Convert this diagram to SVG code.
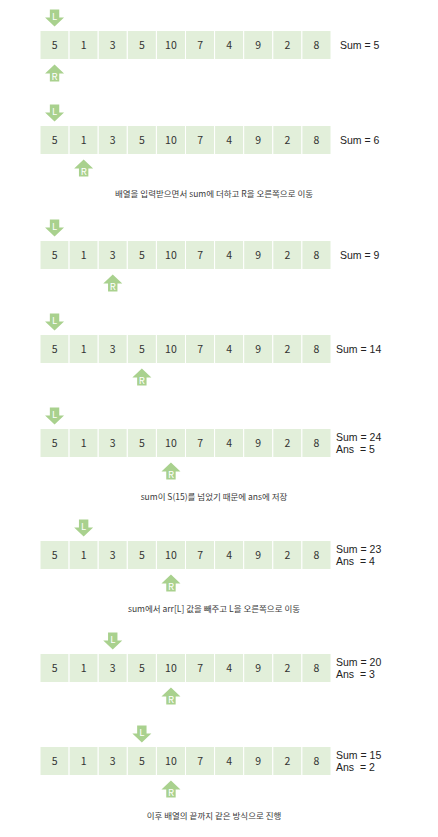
<svg xmlns="http://www.w3.org/2000/svg" xmlns:xlink="http://www.w3.org/1999/xlink" width="438" height="837" viewBox="0 0 438 837">
<style>
.cell{fill:#E2EFDA;stroke:#FFFFFF;stroke-width:1}
.num{font-family:"Noto Sans CJK KR","Noto Sans",sans-serif;font-size:10.5px;fill:#333333;text-anchor:middle}
.sum{font-family:"Liberation Sans",Arial,sans-serif;font-size:10.5px;fill:#222222}
.cap{font-family:"Noto Sans CJK KR","Noto Sans",sans-serif;font-size:8.5px;fill:#3a3a3a;text-anchor:middle}
.arr{fill:#A9D18E}
.lab{font-family:"Noto Sans CJK KR","Noto Sans",sans-serif;font-size:9.5px;fill:#FFFFFF;text-anchor:middle}
</style>
<defs>
<path id="down" class="arr" d="M-4.7,0 H4.7 V8 H9.5 L0,17 L-9.5,8 H-4.7 Z"/>
<path id="up" class="arr" d="M0,0 L9.5,9 H4.7 V17 H-4.7 V9 H-9.5 Z"/>
<g id="cells">
<rect class="cell" x="40" y="0" width="29.1" height="29"/>
<rect class="cell" x="69.1" y="0" width="29.1" height="29"/>
<rect class="cell" x="98.2" y="0" width="29.1" height="29"/>
<rect class="cell" x="127.3" y="0" width="29.1" height="29"/>
<rect class="cell" x="156.4" y="0" width="29.1" height="29"/>
<rect class="cell" x="185.5" y="0" width="29.1" height="29"/>
<rect class="cell" x="214.6" y="0" width="29.1" height="29"/>
<rect class="cell" x="243.7" y="0" width="29.1" height="29"/>
<rect class="cell" x="272.8" y="0" width="29.1" height="29"/>
<rect class="cell" x="301.9" y="0" width="29.1" height="29"/>
</g>
</defs>

<!-- Row 1 -->
<g id="row1" transform="translate(0,30.5)">
<use xlink:href="#cells"/>
<text class="num" x="54.55" y="18.5">5</text><text class="num" x="83.65" y="18.5">1</text><text class="num" x="112.75" y="18.5">3</text><text class="num" x="141.85" y="18.5">5</text><text class="num" x="170.95" y="18.5">10</text><text class="num" x="200.05" y="18.5">7</text><text class="num" x="229.15" y="18.5">4</text><text class="num" x="258.25" y="18.5">9</text><text class="num" x="287.35" y="18.5">2</text><text class="num" x="316.45" y="18.5">8</text>
<text class="sum" x="340" y="18.5">Sum = 5</text>
</g>
<g id="row1-L"><use xlink:href="#down" x="54.55" y="9.5"/><text class="lab" x="54.55" y="20">L</text></g>
<g id="row1-R"><use xlink:href="#up" x="54.55" y="64.5"/><text class="lab" x="54.55" y="80">R</text></g>

<!-- Row 2 -->
<g id="row2" transform="translate(0,125.5)">
<use xlink:href="#cells"/>
<text class="num" x="54.55" y="18.5">5</text><text class="num" x="83.65" y="18.5">1</text><text class="num" x="112.75" y="18.5">3</text><text class="num" x="141.85" y="18.5">5</text><text class="num" x="170.95" y="18.5">10</text><text class="num" x="200.05" y="18.5">7</text><text class="num" x="229.15" y="18.5">4</text><text class="num" x="258.25" y="18.5">9</text><text class="num" x="287.35" y="18.5">2</text><text class="num" x="316.45" y="18.5">8</text>
<text class="sum" x="340" y="18.5">Sum = 6</text>
</g>
<g id="row2-L"><use xlink:href="#down" x="54.55" y="104.5"/><text class="lab" x="54.55" y="115">L</text></g>
<g id="row2-R"><use xlink:href="#up" x="83.65" y="159.5"/><text class="lab" x="83.65" y="175">R</text></g>
<text id="cap1" class="cap" x="214" y="197">배열을 입력받으면서 sum에 더하고 R을 오른쪽으로 이동</text>

<!-- Row 3 -->
<g id="row3" transform="translate(0,240.5)">
<use xlink:href="#cells"/>
<text class="num" x="54.55" y="18.5">5</text><text class="num" x="83.65" y="18.5">1</text><text class="num" x="112.75" y="18.5">3</text><text class="num" x="141.85" y="18.5">5</text><text class="num" x="170.95" y="18.5">10</text><text class="num" x="200.05" y="18.5">7</text><text class="num" x="229.15" y="18.5">4</text><text class="num" x="258.25" y="18.5">9</text><text class="num" x="287.35" y="18.5">2</text><text class="num" x="316.45" y="18.5">8</text>
<text class="sum" x="340" y="18.5">Sum = 9</text>
</g>
<g id="row3-L"><use xlink:href="#down" x="54.55" y="219.5"/><text class="lab" x="54.55" y="230">L</text></g>
<g id="row3-R"><use xlink:href="#up" x="112.75" y="274.5"/><text class="lab" x="112.75" y="290">R</text></g>

<!-- Row 4 -->
<g id="row4" transform="translate(0,334.5)">
<use xlink:href="#cells"/>
<text class="num" x="54.55" y="18.5">5</text><text class="num" x="83.65" y="18.5">1</text><text class="num" x="112.75" y="18.5">3</text><text class="num" x="141.85" y="18.5">5</text><text class="num" x="170.95" y="18.5">10</text><text class="num" x="200.05" y="18.5">7</text><text class="num" x="229.15" y="18.5">4</text><text class="num" x="258.25" y="18.5">9</text><text class="num" x="287.35" y="18.5">2</text><text class="num" x="316.45" y="18.5">8</text>
<text class="sum" x="336" y="18.5">Sum = 14</text>
</g>
<g id="row4-L"><use xlink:href="#down" x="54.55" y="313.5"/><text class="lab" x="54.55" y="324">L</text></g>
<g id="row4-R"><use xlink:href="#up" x="141.85" y="368.5"/><text class="lab" x="141.85" y="384">R</text></g>

<!-- Row 5 -->
<g id="row5" transform="translate(0,428.5)">
<use xlink:href="#cells"/>
<text class="num" x="54.55" y="18.5">5</text><text class="num" x="83.65" y="18.5">1</text><text class="num" x="112.75" y="18.5">3</text><text class="num" x="141.85" y="18.5">5</text><text class="num" x="170.95" y="18.5">10</text><text class="num" x="200.05" y="18.5">7</text><text class="num" x="229.15" y="18.5">4</text><text class="num" x="258.25" y="18.5">9</text><text class="num" x="287.35" y="18.5">2</text><text class="num" x="316.45" y="18.5">8</text>
<text class="sum" x="336" y="12.3" xml:space="preserve">Sum = 24</text>
<text class="sum" x="336" y="24.7" xml:space="preserve">Ans  = 5</text>
</g>
<g id="row5-L"><use xlink:href="#down" x="54.55" y="407.5"/><text class="lab" x="54.55" y="418">L</text></g>
<g id="row5-R"><use xlink:href="#up" x="170.95" y="462.5"/><text class="lab" x="170.95" y="478">R</text></g>
<text id="cap2" class="cap" x="214" y="500">sum이 S(15)를 넘었기 때문에 ans에 저장</text>

<!-- Row 6 -->
<g id="row6" transform="translate(0,540.5)">
<use xlink:href="#cells"/>
<text class="num" x="54.55" y="18.5">5</text><text class="num" x="83.65" y="18.5">1</text><text class="num" x="112.75" y="18.5">3</text><text class="num" x="141.85" y="18.5">5</text><text class="num" x="170.95" y="18.5">10</text><text class="num" x="200.05" y="18.5">7</text><text class="num" x="229.15" y="18.5">4</text><text class="num" x="258.25" y="18.5">9</text><text class="num" x="287.35" y="18.5">2</text><text class="num" x="316.45" y="18.5">8</text>
<text class="sum" x="336" y="12.3" xml:space="preserve">Sum = 23</text>
<text class="sum" x="336" y="24.7" xml:space="preserve">Ans  = 4</text>
</g>
<g id="row6-L"><use xlink:href="#down" x="83.65" y="519.5"/><text class="lab" x="83.65" y="530">L</text></g>
<g id="row6-R"><use xlink:href="#up" x="170.95" y="574.5"/><text class="lab" x="170.95" y="590">R</text></g>
<text id="cap3" class="cap" x="214" y="612">sum에서 arr[L] 값을 빼주고 L을 오른쪽으로 이동</text>

<!-- Row 7 -->
<g id="row7" transform="translate(0,653.5)">
<use xlink:href="#cells"/>
<text class="num" x="54.55" y="18.5">5</text><text class="num" x="83.65" y="18.5">1</text><text class="num" x="112.75" y="18.5">3</text><text class="num" x="141.85" y="18.5">5</text><text class="num" x="170.95" y="18.5">10</text><text class="num" x="200.05" y="18.5">7</text><text class="num" x="229.15" y="18.5">4</text><text class="num" x="258.25" y="18.5">9</text><text class="num" x="287.35" y="18.5">2</text><text class="num" x="316.45" y="18.5">8</text>
<text class="sum" x="336" y="12.3" xml:space="preserve">Sum = 20</text>
<text class="sum" x="336" y="24.7" xml:space="preserve">Ans  = 3</text>
</g>
<g id="row7-L"><use xlink:href="#down" x="112.75" y="632.5"/><text class="lab" x="112.75" y="643">L</text></g>
<g id="row7-R"><use xlink:href="#up" x="170.95" y="687.5"/><text class="lab" x="170.95" y="703">R</text></g>

<!-- Row 8 -->
<g id="row8" transform="translate(0,746.5)">
<use xlink:href="#cells"/>
<text class="num" x="54.55" y="18.5">5</text><text class="num" x="83.65" y="18.5">1</text><text class="num" x="112.75" y="18.5">3</text><text class="num" x="141.85" y="18.5">5</text><text class="num" x="170.95" y="18.5">10</text><text class="num" x="200.05" y="18.5">7</text><text class="num" x="229.15" y="18.5">4</text><text class="num" x="258.25" y="18.5">9</text><text class="num" x="287.35" y="18.5">2</text><text class="num" x="316.45" y="18.5">8</text>
<text class="sum" x="336" y="12.3" xml:space="preserve">Sum = 15</text>
<text class="sum" x="336" y="24.7" xml:space="preserve">Ans  = 2</text>
</g>
<g id="row8-L"><use xlink:href="#down" x="141.85" y="725.5"/><text class="lab" x="141.85" y="736">L</text></g>
<g id="row8-R"><use xlink:href="#up" x="170.95" y="780.5"/><text class="lab" x="170.95" y="796">R</text></g>
<text id="cap4" class="cap" x="214" y="819">이후 배열의 끝까지 같은 방식으로 진행</text>

<g id="connectors"/>
</svg>
